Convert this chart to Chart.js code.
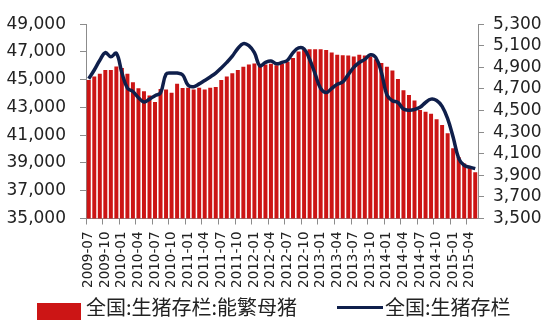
<!DOCTYPE html>
<html lang="zh-CN">
<head>
<meta charset="UTF-8">
<title>全国:生猪存栏 / 能繁母猪</title>
<script src="https://cdn.jsdelivr.net/npm/chart.js"></script>
<style>
  html, body { margin: 0; padding: 0; background: #fff; }
  .wrap { position: relative; width: 557px; height: 320px; overflow: hidden; }
  .legend { position: absolute; left: 0; top: 0; font-family: 'Noto Sans CJK SC', sans-serif; font-size: 20px; color: #222; }
  .legend .txt { position: absolute; top: 293px; white-space: nowrap; line-height: 28px; }
  .legend .box { position: absolute; left: 37px; top: 303px; width: 44px; height: 20px; background: #cc1515; }
  .legend .ln { position: absolute; left: 337px; top: 306px; width: 46px; height: 3px; background: #0f1f4b; }
</style>
</head>
<body>
<div class="wrap">
  <canvas id="chart_div" width="557" height="320"></canvas>
  <div class="legend">
    <div class="box"></div><div class="txt" id="lg1" style="left:86px"></div>
    <div class="ln"></div><div class="txt" id="lg2" style="left:385px"></div>
  </div>
</div>
<script>
// monthly, 2009-07 .. 2015-05
const months = [
  '2009-07','2009-08','2009-09','2009-10','2009-11','2009-12',
  '2010-01','2010-02','2010-03','2010-04','2010-05','2010-06',
  '2010-07','2010-08','2010-09','2010-10','2010-11','2010-12',
  '2011-01','2011-02','2011-03','2011-04','2011-05','2011-06',
  '2011-07','2011-08','2011-09','2011-10','2011-11','2011-12',
  '2012-01','2012-02','2012-03','2012-04','2012-05','2012-06',
  '2012-07','2012-08','2012-09','2012-10','2012-11','2012-12',
  '2013-01','2013-02','2013-03','2013-04','2013-05','2013-06',
  '2013-07','2013-08','2013-09','2013-10','2013-11','2013-12',
  '2014-01','2014-02','2014-03','2014-04','2014-05','2014-06',
  '2014-07','2014-08','2014-09','2014-10','2014-11','2014-12',
  '2015-01','2015-02','2015-03','2015-04','2015-05'
];

// 全国:生猪存栏:能繁母猪 (right axis)
const sows = [
  4783, 4816, 4840, 4876, 4876, 4909, 4894, 4840, 4763, 4706, 4679, 4640,
  4580, 4700, 4694, 4664, 4748, 4710, 4712, 4695, 4712, 4695, 4712, 4718,
  4783, 4816, 4846, 4876, 4906, 4927, 4936, 4912, 4927, 4933, 4920, 4933,
  4951, 4987, 5046, 5067, 5067, 5067, 5067, 5061, 5037, 5016, 5013, 5010,
  5001, 5016, 5010, 5001, 4975, 4940, 4906, 4870, 4792, 4688, 4643, 4593,
  4505, 4488, 4470, 4419, 4367, 4290, 4150, 4070, 4010, 3975, 3928
];

// 全国:生猪存栏 (left axis)
const hogs = [
  45070, 45700, 46400, 46950, 46650, 46900, 45500, 44400, 44150, 43700, 43400, 43600,
  43850, 44050, 45400, 45480, 45480, 45350, 44600, 44500, 44700, 44950, 45200, 45480,
  45850, 46250, 46700, 47250, 47600, 47450, 46950, 46000, 46250, 46350, 46150, 46250,
  46400, 46950, 47290, 47220, 46470, 45420, 44370, 44070, 44370, 44670, 44840, 45370,
  45890, 46240, 46470, 46800, 46590, 45540, 43900, 43480, 43360, 42890, 42800, 42850,
  43010, 43360, 43600, 43500, 43080, 42190, 40860, 39340, 38820, 38700, 38590
];

const leftTicks = [35000, 37000, 39000, 41000, 43000, 45000, 47000, 49000];
const rightTicks = [3500, 3700, 3900, 4100, 4300, 4500, 4700, 4900, 5100, 5300];

const axisGray = '#8c8c8c';
const textColor = '#222';
const tickFont = { family: 'DejaVu Sans', size: 17 };

const ctx = document.getElementById('chart_div');
const chart = new Chart(ctx, {
  type: 'bar',
  data: {
    labels: months,
    datasets: [{
      label: '全国:生猪存栏:能繁母猪',
      data: sows,
      yAxisID: 'y1',
      backgroundColor: '#cc1515',
      borderWidth: 0,
      barPercentage: 0.72,
      categoryPercentage: 1,
      order: 2
    }, {
      type: 'line',
      label: '全国:生猪存栏',
      data: hogs,
      yAxisID: 'y',
      borderColor: '#0f1f4b',
      backgroundColor: '#0f1f4b',
      borderWidth: 3.5,
      pointRadius: 0,
      tension: 0.4,
      order: 1
    }]
  },
  options: {
    responsive: false,
    animation: false,
    layout: { padding: { top: 19, left: 0, right: 0, bottom: 0 } },
    plugins: {
      tooltip: { enabled: false },
      legend: { display: false }
    },
    scales: {
      x: {
        offset: true,
        grid: {
          offset: true,
          drawOnChartArea: false,
          tickLength: 6,
          tickColor: function (c) {
            return c.index % 3 === 0 ? axisGray : 'rgba(0,0,0,0)';
          }
        },
        border: { color: axisGray },
        ticks: {
          autoSkip: false,
          minRotation: 90,
          maxRotation: 90,
          padding: 7,
          color: textColor,
          font: { family: 'DejaVu Sans', size: 13.5 },
          callback: function (v, i) {
            return i % 3 === 0 ? months[i] : '';
          }
        },
        afterFit: function (s) { s.height = 101.5; }
      },
      y: {
        position: 'left',
        min: 35000,
        max: 49000,
        afterBuildTicks: function (s) { s.ticks = leftTicks.map(v => ({ value: v })); },
        grid: { drawOnChartArea: false, tickLength: 6, tickColor: axisGray },
        border: { color: axisGray },
        ticks: {
          autoSkip: false,
          padding: 14,
          color: textColor,
          font: tickFont,
          callback: v => v.toLocaleString('en-US')
        },
        afterFit: function (s) { s.width = 86; }
      },
      y1: {
        position: 'right',
        min: 3500,
        max: 5300,
        afterBuildTicks: function (s) { s.ticks = rightTicks.map(v => ({ value: v })); },
        grid: { drawOnChartArea: false, tickLength: 6, tickColor: axisGray },
        border: { color: axisGray },
        ticks: {
          autoSkip: false,
          padding: 9,
          color: textColor,
          font: tickFont,
          callback: v => v.toLocaleString('en-US')
        },
        afterFit: function (s) { s.width = 79; }
      }
    }
  }
});

// legend text comes from the dataset labels
document.getElementById('lg1').textContent = chart.data.datasets[0].label;
document.getElementById('lg2').textContent = chart.data.datasets[1].label;
</script>
</body>
</html>
